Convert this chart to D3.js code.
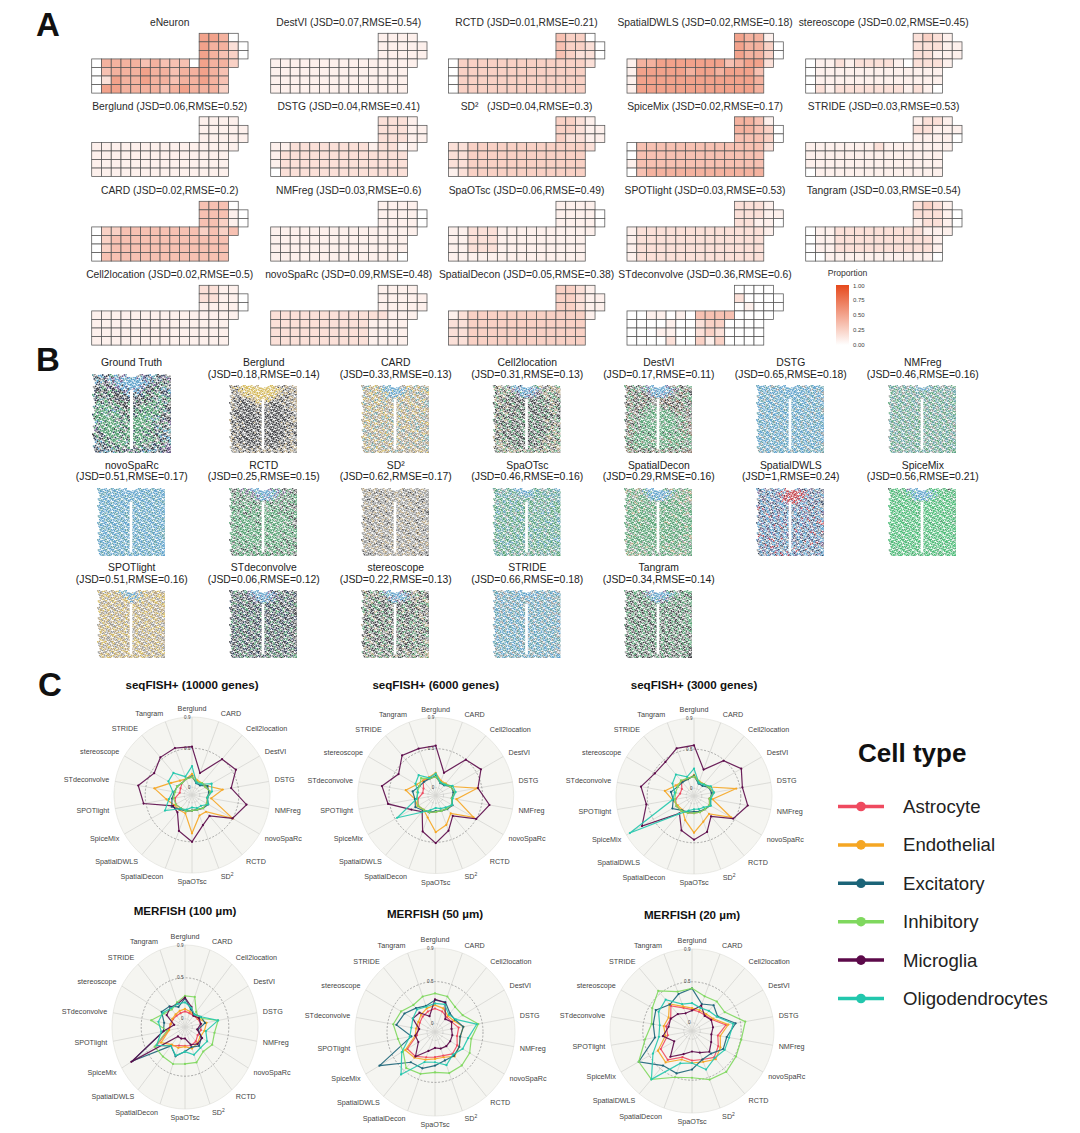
<!DOCTYPE html>
<html><head><meta charset="utf-8">
<script src="https://cdn.jsdelivr.net/npm/d3@7"></script>
<style>html,body{margin:0;background:#fff}svg{display:block;font-family:"Liberation Sans",Arial,sans-serif}</style>
</head><body><svg id="c" width="1080" height="1133"></svg>
<script>
// ---------- Panel A ----------
const heatTitles = ["eNeuron","DestVI (JSD=0.07,RMSE=0.54)","RCTD (JSD=0.01,RMSE=0.21)","SpatialDWLS (JSD=0.02,RMSE=0.18)","stereoscope (JSD=0.02,RMSE=0.45)",
"Berglund (JSD=0.06,RMSE=0.52)","DSTG (JSD=0.04,RMSE=0.41)","SD²\u00a0\u00a0\u00a0(JSD=0.04,RMSE=0.3)","SpiceMix (JSD=0.02,RMSE=0.17)","STRIDE (JSD=0.03,RMSE=0.53)",
"CARD (JSD=0.02,RMSE=0.2)","NMFreg (JSD=0.03,RMSE=0.6)","SpaOTsc (JSD=0.06,RMSE=0.49)","SPOTlight (JSD=0.03,RMSE=0.53)","Tangram (JSD=0.03,RMSE=0.54)",
"Cell2location (JSD=0.02,RMSE=0.5)","novoSpaRc (JSD=0.09,RMSE=0.48)","SpatialDecon (JSD=0.05,RMSE=0.38)","STdeconvolve (JSD=0.36,RMSE=0.6)"];
// digits = proportion x 10 (estimated), one string per grid row
const rowStartCols = [11,11,11,0,0,0,0];
const heatValues = [
"6650 65520 65430 055554544406553 04555655455654 02655655455654 06655554565553",
"1111 11111 11111 111111111111111 11111111111111 11111111111111 11111111111111",
"4330 43320 43220 033333333333332 03333333333333 03333333333333 03333333333333",
"6551 65530 65530 155666666645662 16666656656664 16666666666665 16666666666665",
"2321 22211 22111 011212222102221 01111111111111 01111111111111 02122222221210",
"1111 11111 11111 111111111111111 11111111111111 11111111111111 11111111111111",
"2221 22211 22211 112222222212211 12222222222222 12222222222222 02222222222222",
"3321 33211 32211 223333333333332 22333333333333 22333333333333 12333333333333",
"5541 55430 44430 044444444444442 04444444444444 14444444444444 04555555555555",
"1221 22111 11110 111111121111111 11111111111111 11111111111111 01111111111111",
"4440 44410 44310 033444444443434 03444444444444 03444444444444 04444444444444",
"1111 11110 11110 111111111111111 11111111111111 11111111111111 11111111111110",
"1111 11110 11110 112221111111111 11222111111111 11222111111111 11111111111111",
"2221 22211 22110 122222222222221 12222222222222 12222222222222 12222222222222",
"2321 22210 12210 011222222222111 01122222222221 01122222222221 00111111111110",
"2211 22110 11110 111111111111111 11111111111111 11111111111111 11111111111111",
"1111 11111 11111 222222222222111 22222222221111 22222222221111 22222222221111",
"3321 33211 33211 123333333333331 22333333333333 22333333333333 22333333333333",
"0000 20000 01000 001101044440000 00001002330000 00011002320000 00002003130000"];
const heatLegendTicks = [0,0.25,0.5,0.75,1];
// ---------- Panel B ----------
const spotTitles = [["Ground Truth"],["Berglund","(JSD=0.18,RMSE=0.14)"],["CARD","(JSD=0.33,RMSE=0.13)"],["Cell2location","(JSD=0.31,RMSE=0.13)"],["DestVI","(JSD=0.17,RMSE=0.11)"],["DSTG","(JSD=0.65,RMSE=0.18)"],["NMFreg","(JSD=0.46,RMSE=0.16)"],
["novoSpaRc","(JSD=0.51,RMSE=0.17)"],["RCTD","(JSD=0.25,RMSE=0.15)"],["SD²","(JSD=0.62,RMSE=0.17)"],["SpaOTsc","(JSD=0.46,RMSE=0.16)"],["SpatialDecon","(JSD=0.29,RMSE=0.16)"],["SpatialDWLS","(JSD=1,RMSE=0.24)"],["SpiceMix","(JSD=0.56,RMSE=0.21)"],
["SPOTlight","(JSD=0.51,RMSE=0.16)"],["STdeconvolve","(JSD=0.06,RMSE=0.12)"],["stereoscope","(JSD=0.22,RMSE=0.13)"],["STRIDE","(JSD=0.66,RMSE=0.18)"],["Tangram","(JSD=0.34,RMSE=0.14)"]];
const spotColors = {n:"#35445f",g:"#529f70",b:"#5a9fca",t:"#619fa5",y:"#d4b755",e:"#949594",p:"#75608f",r:"#c23d46",l:"#48bb74",k:"#3d3e42",o:"#b5a07a",u:"#8d6f5c"};
// estimated dominant cell type, coarse 20 x 20 cells of each spatial map
const spotGrids = [
"tebnkgbeptbbepnbtkne ntekbpbptbbbbptnetkp bnektpbbbbbbbbnpkgne ekngpkpbbbbbbpkkgnte nkekgnnkpbbbpkngeknb gnkengkkkbbtkngkegtn entgkenkknenkkngetkg kgngegkkkgnkekggngte tngggengkkgnegggnegk egggnbgekgkgnggggetn ngggteggnkenggggngke kgggggengkgggggbtenk bngggggneggggggnekgp engggggtkgggggegntke pngggggkegngggngekbt kgenggggnggggengktne nekgnggegkgggnggenkb bkngegggtgngggengket tnekngngegkegnektngp eknbtekgnpegnkbtenkp",
"eokeyyyyooyyyyoekoeo oekyyyyyyyyyyyyokeoe koeoyyyyyyyyyyoeokeo eoekoyyoyyyyoyokekoe okekkeooyyyyoekkoeko koekkkekoyoekkkeoeko eoekkkkeokoekkkkekoe okkekkkkeekekkkekeoo kekkkekkkokkkekkkeke eokkkkekkekkkkekkkoe okekkkkkkekkkekkkkeo kkoekkkkkokkkkkekoke ekokkekkkekkkekkkeok okekkkkekekkekkkkeoe koekekkkkokkkkkkekok eokkkkekkekkekkkekoe okekkkkkkokkkkkekeoe ekoekkekkekkkekkokek oekokekkkokekkekoeko eoeekoekoeokeoekoeoe",
"oetoyoebtbbbeoyotoeo toeoyotbbbbbboeyoeot eoyoteoybbbbtoeoteoy oteoyoetbbboeyoteoe yoeotyoeoteoyoeotoye oteoeyoteoeoteoyoeot eoyoteoeoyoeotoeyote oteoyoeoteoyoteoeoyo yoeoteoyoeoteoeoyote oteoeotyoeoyotoeoteo eoyoteoeoteoeoyoteoe otoeyoteoyoteoeoteoy yoeoteoeoteoyoeoteoe oteoyoeotoeoteoyoteo eoteoeoyoteoeoteoeyo oyoteoeoteoyoeotoeot teoeyoteoeoteoeoyote oeoteoeoyoteoeoteoeo eoyoteoteoeoyoteoeot oteoeoyoeoteoeoeoyoe",
"ekoegetbnbbbtgoekoeg oegkoepbbbbbbpegokeo kegoekgpbbbbpkeogeko egkoekgkpbbpkekgoegk oekgkkekkegkkegkkoeg kgoekkgkekkgkekgkeok egkkoekkgkkekgkkeogk kogkkekgkkekkgkkegok ekkgoekkgkegkkekgkoe okgkkegkkekkegkkgkek gkekogkkegkkgkkeokeg ekkgkkegkkegkkegkkoe okegkkgkekkgkekkgoek gkokkegkkegkkgkkekog ekgkekkgkekgkkeggkoe oekkgkegkkgkkegkkoeg kgokegkkegkkegkoekok egoekgkkekkgkekgoekg okeogkekgkegkekogeko egkoegoekogekgoekoge",
"gukgkegpbbbbbpeugkeg ekguetgpbbbbbbpkgeue ugekgkepbbbbbpegukgk kegukgukpbbbpukgekug gukegkukeguukegukgeg ekugkeukgeeukukekugk ugekukgeggekugkuekge gekugkegggeggkeukgue ekguekggggeggggkugek ugegkegggggggggegkue gkugeggggeggggggegge eukgegggggegggggekgu ugegkggggeggggeggkue gkugeggggggggggeguge eukggggkgggggkggggku ugeggggegggeggggegug gekgggggueggguggggeg kggugggegggeggguggke ugkgggggkgggggkgggeg ugeukgekugeugkeugeku",
"tbbtbetbbbbbbtebtbbt btbtbbebtbbbbtbbebtb bebtbbtbbbbbbbtbtbbe tbbtbebtbtbbbtbebtbb btebtbbtbbtbtbbtbtbe tbbtbbebtbtbbtbbebtb bebtbtbbtbbtbbtbtbbt btbbtbebtbtbbebtbtbe tbebtbbtbbtbtbbtbebt bbtbtbebtbtbbebtbtbb btbebtbbtbbtbbtbtbeb tbbtbtbebtbtbtbebtbt bebtbbtbtbbebtbtbbtb tbtbebtbbtbtbbtbebtb bbtbtbbebtbbtbtbbtbe tbebtbtbbtbebtbbtbtb btbbtbebtbtbbtbebtbb bebtbtbbtbbebtbtbbte tbtbbebtbtbbtbbebtbt ebtbebtbtbebtbtbtebt",
"etgtetegetbbtegteteg tegtetgebtbbtetgteet gtetegtetgtegtetgtet etgtgetgtetgtegteteg tegtetgtegtetgtegtet gtetgtegtetgtgetgteg etgtegtetgtegtetgtet tgetgtetgegtetgtegte gtegtetgtegtgtetegtg tetgtegtgetegtgtetgt egtgtetgtgegtetgtget tetgegtetgtgetgtegte gtgetgtegtgtegtgtetg etegtgtetgtegtetgtge tgtetgtegtegtgetgtet egtgetgegtgtetegtgte tetgtegtgetgtegtetgt gtegtetgtegtetgtgetg etgtetgtegtgtegtetgt tegtegtetgtetgetgteg",
"btbbtbtbbbbbbtbbtbtb bbtbbtbbbbbbbbtbbbtb tbbtbbbbtbbbbtbbtbbb btbbbtbtbbbtbbbtbtbb bbtbtbbbtbtbbtbbbtbt tbbbtbbtbbbtbbtbbbtb btbtbbtbbtbbtbbtbtbb bbtbbtbbtbbtbbtbbtbb tbbtbbtbbtbbtbtbbtbb bbtbbtbtbbtbbtbbtbbt btbbtbbtbbtbtbbtbbtb bbtbbtbbtbbbtbbtbbtb tbbtbtbbtbbtbbtbtbbt btbbtbbtbbtbbtbbtbbt bbtbbtbtbbtbbtbbtbbt tbbtbbtbbtbtbbtbbtbb btbbtbtbbtbbtbbtbtbb bbtbtbbtbbtbbtbtbbtb tbbtbbtbbtbbtbbtbbtb btbtbbtbtbtbbtbtbbtb",
"gekgpgpbbbbbpgpgkegk ekgegpgpbbbbbbpgpgke gegkgepgpbbbbpgegkgg kgegkgegpbbbpgegkgeg gkgegggkegegkggegkgg egggkgegggkegggekggk gkggggegkggegggkgege ggegkggggeggggkgggkg egggggkgggkgggggegkg gkgggggegggggegggggk gegggggggkgggggggege ggkgggegggggggeggggk eggggggggkgggggggegg gggkgggggggeggggkggg gegggegggkggggeggegg kggggggggggggggggkge gegkgggegggkgggegkgg ggeggggkggeggkgggegk gkgegkggegggeggkgegg egkgggegkgggkgeggkge",
"eoeeoeeoeekeoeeoeeoe eeoekeeoeeoeeekeeoee oeeeoeekeeeoekeeoeee eekeeoeeoeeoeeoeeeke eoeeekeeeoeeeeoekeoe eeoeoeeoeekeoeeoeeee oeekeeeoeeeoeeekeeoe eeoeeoekeeoeeoeeoeek eoeekeeoeeekeeoeeeoe keeoeeoeeeoeeoeekeee eoekeeoekeeeoekeoeeo eeeoeeeeoeeoeeeeoeee oeekeoeeoekeeoeeoeke eeoeeeoeeeoeeekeeoee eoeeoekeeoeeoeeoeeoe keeoeeeoeeekeeoeekee eeoekeoeeoeeoeeeoeeo oeeeoeekeeoeeoekeoee eoeeoeeoeeoekeeoeeoe eekeeoeeoeeeoeeoekee",
"tgtetgtbbbbbtgtetgtb gtetgtgtbbbbgtgtetgt tgtbtgtetbbtgtgtbtgt gtgtgtetgtgtetgtgtet etgtgbtgtgtgtgtegtgt tgtetgtgtgetgtgtgtbg gtgtgtgbtgtgtgtetgtg tbgtgtegtgtegtbgtgtg gtgtegtgtgtgtgtgtegt tgtgtgtgbtgtgtgtgtgt gtegtgtgtgtegtgtgbgt tgtgtgetgtgtgtgetgtg gbtgtgtgtgtgbtgtgtgt tgtgtegtgtgtgtgtegtg gtgtgtgtgbgtgtgtgtgt tegtgtgtgtgtegtgtgtb gtgtbtgtgtgtgtgbtgtg tgtgtgtegtgtgtgtgtgt gtegtgtgtgtgegtgtget tgtgtgetgtegtgtetgtg",
"geggoegbbbbbgeoggegg oggegegbbbbbbbgeggeo ggeoggebbbbbbegoggeg egggegggbbbbegggeggo gegogggegeggegggogge ggeggggegggggggeggeg egggogggggogggggggeg ggoggggegggggeggggog gegggggggegggggoggge ggggoggggggggggggggg gegggggegggggoggggeg gggoggggggggggggggog eggggggggoggggegggeg ggeggggggggggggggggg gogggegggggoggggeggo gggggggggggggggggegg egoggggeggggegggogge gggeggoggggoggeggegg eggeggegggegggogggeg oggeogggegeggeggoegg",
"bnbpebpbbrrrbpnbpebn pebnbbpebrrrrrpbnbpe bnpbebnprrrrrrbpebnb ebpnbbpbrrrrrpbnbpbe nbebpnbbprrrpbbepnbn bpnbebnpbbpbenbpbnbe rbpbnbpebnbpbpbrnbeb nbebnbpbnbebnbpebnbp bpnbrbpbebbpbnbpbnbe ebnbpbnbpbnebpbrnbpb nbpbebnbpbpbnbpbebnr bebnbpbrnbebpbnbpbnb npbpbnbebnbrbebnpbeb bebnbpbnbpbnbpbnbrbn rbnpbebpbnbpbebnbpbe bpbnbrbnbebpnbnbpbnb ebnbebpbnbpbnbebrbnp bnpbrnbebnbebpbnbpbe ebpbnbpbebnbrbnbebnb nbebpnbrbpbnbpbebnpb",
"kgllglpbbbbbglllglkl llglgllbbbbbblllgllg glllglgbbbbbblglllgl llgllllgbbbbglllgllg lglllgllgglllgllglll llllglllllglllllglll glllllglllllgllllllg lllgllllglllllgllgll llglllllllgllllllllg glllgllglllglllgllll llllllgllllllglllglg lglllllllglllllgllll llllgllglllllgllglll glllllllllgllllllllg llglllgllllglllgllll lllllglllllllglllllg glllgllllgllllllglll llglllllgllglllgllll gllgllglllllgllglllg llgllllgllglllglglll",
"oeyoeoybtbbbeoyoeoye eoyoeyoetbbboeyoeoyo oyeoyoeoybbbyoeoyeoy yoeoeyoeoybeoyoeoyoe eoyoeoyeoeyoeoeyoeoy oeoyoeoeyoeoyoeoyoeo yoeoeyoeoyoeoeyoeoeo eoyoeoeoyoeyoeoyoeoy oeyoeoyoeoeoyoeoeyoe oyoeoeyoeoyoeoyoeoyo eoeyoeoeoyeoeoeyoeoe oyoeoyoeyoeoyoeoyoey yoeoeoyoeoeoeyoeoyoe eoyoeyoeoyoeoeoeyoeo oeoeoeyoeoeyoeoyoeoe yoyoeoeoyoeoyoeoeoyo eoeyoeoeoeyoeoyoeyoe oyoeoyoeoyoeoeoeoyoe eoeoeyoeoyoeoyoeoeoy oyeoyoeoyeoyoeyoeoye",
"kngekgpbbbbbpnkgknek enkgkntpbbbbbpknegkn kgnkenkpbbbbpknkgnke nkenkgknpbbbkngknenk gkngknekgnkngkeknkng nkekngkknnkgknkngkek knkgnkngknkngkgnknek engknkegnkkenkngnkgk knkngkngnkgnknkeknkn gnkenkgknnkngknkgnke kngkgnkeknkgenkgnknk engnknkgnkngnknekngk knkgknengkknkgnkgnke gknnkgknknegnknkkgnk nkegknkngknkgknegkne knkngnekgknnkgknkngk eknkgknkngkengknkgke gknenkgnkgnkngkenkgn knkgkenknkekgnkgknek nekgnkgenkngekngkeng",
"eokgekgpbbbbpgkeokge kgeokegtbbbbbpkegoek oekgkeokpbbbbtekoegk gkeokgkekbbpekgkoeko eokgekkgkekkgekkgekg kgekkgekkeokkgekkoek gkekokgkekkgokekgeke okgekkgekkgekkgekoke ekkgokekgkekgkkegkoe kgekkgekokgekkgekgek oekgkekkgekkgoekgeko gkekoekgkekgkekkgekg ekgkkgeokekkgekgeokk kekoekgkekokgekkgekg ogkekkgekkgekkgokeke ekgoekkgkekgeokkgeko kekgekokgekkgkekgekg oekkgekgkeokekkgoeke gkeokegkekgekeokgeko eokgeokgekoekgeokgeo",
"bteebtbebbbbebtbetbe tbebtebtbbbbbetbebtb ebtbetbbebbebtbtbeet btebtbetbtebtbetbebt tbetbebtbebtebtbetbe ebtbtebtbtebtbtebtbt btebtbtebtbetbtbtebt tbtbetbtbtbtebtbetbe ebtbtbetbebtbtbtebtb btebtbtbtbetbtebtbte tbtbetbebtbtbetbtbtb ebetbtbtbebtbtbtebte btbtbebtbtbebtbetbtb tbetbtbtebtbtbtbtbte ebtbtebtbtbtebtbtebt btbtbtbtbetbtbtebtbt tbtebtbebtbtbtebtbte etbtbtbtbtebtbtbtbeb btebtbetbtbtetbtbete tbetbetbtebtbetbebtb",
"gekggkgpbbbbpgkgekgg kgegkgepbbbbbbtgegkg gkgekggtbbbbpgkggegk egkgegkgkbbpkgegkgeg kgegkgkegkggegkggekg gekgkgegkgekgkgegkge kgkegkgkgekgkgkekgkg gegkgegkgkgegkgkgege kgkgekgkegkgkegkgkeg egkgkegkgkgegkgkegkg gkegkgkgekgkegkgkgeg kgkgegkgkgekgkgegkgk egkgkgkegkgkgkegkgeg gkegkgegkgkgegkgkegk kgkgkegkgekgkgkegkge egkgegkgkgkegkgekgkg kgekgkgekgkgkgekgkeg gkgkegkgkekgkgkegkgk egkgegkegkegkgekgegk kgekgkgekgegkekgekgk"
];
// ---------- Panel C ----------
const radarAxes = ["Berglund","CARD","Cell2location","DestVI","DSTG","NMFreg","novoSpaRc","RCTD","SD2","SpaOTsc","SpatialDecon","SpatialDWLS","SpiceMix","SPOTlight","STdeconvolve","stereoscope","STRIDE","Tangram"];
const cellTypes = ["Astrocyte","Endothelial","Excitatory","Inhibitory","Microglia","Oligodendrocytes"];
const cellColors = ["#ef4a5f","#f5a623","#1b6478","#7fd85e","#5c0a4a","#22c7ad"];
const radarTicks = [0,0.5,0.9];
const seq10000 = [
[.13,.08,.1,.1,.14,.1,.12,.12,.1,.1,.12,.12,.14,.12,.06,.07,.1,.12],
[.17,.1,.1,.13,.3,.15,.5,.18,.18,.39,.15,.15,.16,.23,.39,.21,.14,.12],
[.14,.06,.06,.13,.12,.1,.14,.12,.1,.1,.12,.14,.2,.16,.13,.12,.1,.12],
[.13,.08,.1,.1,.14,.1,.12,.12,.1,.1,.12,.12,.14,.14,.12,.12,.1,.12],
[.52,.2,.5,.55,.41,.61,.5,.25,.31,.5,.39,.19,.18,.53,.6,.46,.53,.54],
[.27,.07,.08,.19,.16,.1,.14,.08,.08,.06,.1,.13,.3,.2,.15,.25,.27,.15]];
const seq6000 = [
[.14,.08,.09,.12,.15,.11,.14,.12,.11,.11,.13,.14,.16,.13,.07,.08,.15,.13],
[.19,.1,.1,.13,.44,.17,.46,.2,.3,.37,.2,.14,.17,.17,.29,.18,.15,.15],
[.15,.07,.07,.13,.13,.11,.15,.13,.11,.1,.13,.15,.2,.17,.2,.14,.13,.13],
[.14,.08,.09,.12,.15,.11,.14,.12,.11,.11,.13,.14,.16,.14,.14,.14,.19,.13],
[.54,.21,.5,.57,.45,.6,.5,.24,.38,.51,.39,.17,.26,.52,.6,.45,.57,.54],
[.18,.08,.08,.15,.16,.12,.14,.1,.08,.06,.1,.18,.47,.15,.13,.2,.24,.14]];
const seq3000 = [
[.15,.09,.1,.12,.16,.1,.13,.12,.12,.12,.13,.15,.16,.14,.08,.08,.15,.14],
[.17,.1,.1,.13,.45,.14,.45,.2,.25,.37,.23,.13,.14,.18,.28,.17,.14,.13],
[.16,.07,.07,.12,.13,.11,.14,.12,.11,.1,.12,.14,.22,.17,.2,.14,.13,.13],
[.15,.09,.1,.12,.16,.1,.13,.12,.12,.12,.13,.15,.16,.15,.14,.14,.16,.14],
[.55,.26,.49,.6,.53,.6,.48,.24,.39,.46,.37,.19,.67,.52,.59,.48,.47,.55],
[.25,.08,.09,.15,.16,.12,.15,.09,.08,.07,.1,.2,.85,.18,.15,.22,.26,.16]];
const mer100 = [
[.09,.08,.08,.1,.12,.12,.1,.13,.14,.13,.14,.2,.35,.13,.1,.09,.08,.08],
[.12,.1,.09,.11,.2,.17,.14,.16,.18,.14,.17,.18,.28,.12,.1,.1,.1,.11],
[.25,.13,.1,.15,.18,.08,.16,.2,.16,.2,.28,.2,.73,.2,.19,.27,.23,.16],
[.28,.29,.14,.12,.36,.31,.33,.29,.36,.35,.38,.37,.38,.15,.37,.23,.18,.22],
[.26,.16,.08,.12,.12,.07,.17,.17,.13,.04,.05,.05,.75,.2,.05,.19,.21,.2],
[.2,.15,.1,.15,.36,.19,.25,.23,.26,.2,.27,.2,.35,.23,.27,.25,.2,.2]];
const mer50 = [
[.18,.16,.13,.14,.2,.18,.22,.24,.2,.2,.22,.28,.3,.13,.11,.12,.14,.16],
[.22,.2,.15,.17,.26,.22,.25,.28,.22,.22,.25,.3,.33,.15,.14,.14,.17,.2],
[.28,.28,.19,.19,.26,.22,.25,.27,.26,.3,.36,.37,.7,.2,.39,.34,.27,.23],
[.36,.35,.29,.3,.45,.36,.4,.42,.42,.38,.43,.46,.36,.37,.43,.39,.32,.35],
[.29,.27,.1,.14,.11,.12,.12,.12,.11,.09,.14,.28,.14,.15,.1,.22,.2,.1],
[.24,.25,.17,.2,.43,.32,.3,.25,.32,.26,.28,.56,.38,.22,.2,.22,.25,.22]];
const mer20 = [
[.16,.15,.15,.18,.32,.22,.27,.32,.27,.26,.24,.36,.34,.2,.22,.2,.3,.2],
[.18,.17,.17,.2,.35,.25,.3,.35,.3,.29,.27,.4,.38,.23,.25,.23,.33,.22],
[.42,.25,.31,.26,.44,.33,.34,.26,.27,.37,.45,.45,.65,.36,.38,.41,.32,.38],
[.42,.35,.37,.36,.56,.51,.52,.55,.53,.47,.5,.67,.65,.48,.4,.46,.54,.41],
[.15,.23,.14,.17,.16,.14,.17,.23,.18,.15,.2,.31,.15,.26,.19,.2,.17,.13],
[.24,.2,.22,.25,.41,.36,.36,.33,.4,.29,.32,.67,.45,.31,.3,.37,.4,.25]];
const radarNames = ["seqFISH+ (10000 genes)","seqFISH+ (6000 genes)","seqFISH+ (3000 genes)","MERFISH (100 µm)","MERFISH (50 µm)","MERFISH (20 µm)"];
const radarData = [seq10000,seq6000,seq3000,mer100,mer50,mer20];

const svg = d3.select("#c");
const sansText = (g,x,y,t,fs,anchor="middle",weight=400,fill="#222") => g.append("text").attr("x",x).attr("y",y).attr("text-anchor",anchor).attr("dominant-baseline","central").attr("font-size",fs).attr("font-weight",weight).attr("fill",fill).text(t);

// panel letters
[["A",36,24],["B",36,359],["C",38,684]].forEach(d=>sansText(svg,d[1],d[2],d[0],33,"start",700,"#111"));
const defs=svg.append("defs");
defs.append("filter").attr("id","soft").attr("x",-.02).attr("y",-.02).attr("width",1.04).attr("height",1.04).append("feGaussianBlur").attr("stdDeviation",.35);

// ---- A ----
const heatColor = d3.scaleLinear().domain([0,1]).range(["#ffffff","#e6491c"]);
const heatX = d3.scaleLinear().domain([0,16]).range([0,156.3]);
const heatY = d3.scaleLinear().domain([0,7]).range([0,59.8]);
const hx0 = [91.7,270.7,448.5,627,805.7], hy0 = [33.3,116.8,201.3,285.3];
heatTitles.forEach((t,i)=>{
  const c=i%5, r=Math.floor(i/5), x0=hx0[c], y0=hy0[r];
  const g=svg.append("g").attr("transform",`translate(${x0},${y0})`);
  heatValues[i].split(" ").forEach((s,ri)=>s.split("").forEach((ch,k)=>{
    const col=rowStartCols[ri]+k;
    g.append("rect").attr("x",heatX(col)).attr("y",heatY(ri)).attr("width",heatX(1)).attr("height",heatY(1))
      .attr("fill",heatColor(+ch/10*.85)).attr("stroke","#555").attr("stroke-width",.75);
  }));
  sansText(svg,x0+78,y0-10.5,t,10.3,"middle",400,"#2a2a2a");
});
// colour legend
sansText(svg,847.5,272.5,"Proportion",8.6,"middle",400,"#333");
const grad=defs.append("linearGradient").attr("id","pg").attr("x1",0).attr("x2",0).attr("y1",1).attr("y2",0);
heatLegendTicks.forEach(v=>grad.append("stop").attr("offset",v).attr("stop-color",heatColor(v)));
svg.append("rect").attr("x",836).attr("y",285).attr("width",13).attr("height",60).attr("fill","url(#pg)");
const legY=d3.scaleLinear().domain([0,1]).range([344.5,285.5]);
heatLegendTicks.forEach(v=>sansText(svg,853,legY(v),v.toFixed(2),6,"start",400,"#444"));

// ---- B ----
const spotColX=[97,229,361,492.5,624,756,888], spotRowY=[385,488,590];
const subDots=[[.22,.25,0,0],[.72,.12,0,1],[.48,.62,1,2],[.95,.78,1,-1]];
const staggerX=[0,.37,.71,.18,.55], staggerY=[0,.31,.12,.43];
spotTitles.forEach((t,i)=>{
  const c=i%7,r=Math.floor(i/7);
  let x=spotColX[c],y=spotRowY[r],size=68;
  if(i===0){x=92;y=374;size=79;}
  const cxT=i===0?131.5:x+34.8;
  const tY=[[362,374],[465,476.5],[567,579]][r];
  sansText(svg,cxT,tY[0],t[0],10.4);
  if(t[1]) sansText(svg,cxT,tY[1],t[1],10.4);
  const g=svg.append("g").attr("filter","url(#soft)");
  const clip=defs.append("clipPath").attr("id","sp"+i);
  clip.append("rect").attr("x",x).attr("y",y).attr("width",size).attr("height",size);
  const gc=g.append("g").attr("clip-path",`url(#sp${i})`);
  const bx=d3.scaleBand().domain(d3.range(20)).range([x,x+size]);
  const by=d3.scaleBand().domain(d3.range(20)).range([y,y+size]);
  const bw=bx.bandwidth();
  const rows=spotGrids[i].split(" ");
  const paths={};
  d3.range(20).forEach(ri=>d3.range(20).forEach(ci=>subDots.forEach(sd=>{
    const row=rows[Math.min(19,ri+sd[2])]||rows[ri];
    const ch=row[Math.max(0,Math.min(row.length-1,ci+sd[3]))];
    if(!spotColors[ch]) return;
    const px=bx(ci)+(sd[0]+staggerX[ri%5])*bw, py=by(ri)+(sd[1]+staggerY[ci%4])*bw, rd=bw*.235;
    const p=paths[ch]||(paths[ch]=d3.path());
    p.moveTo(px+rd,py);p.arc(px,py,rd,0,2*Math.PI);
  })));
  Object.keys(paths).forEach(k=>gc.append("path").attr("d",paths[k].toString()).attr("fill",spotColors[k]));
  g.append("rect").attr("x",x+size*.48).attr("y",y+size*.2).attr("width",size*.04).attr("height",size*.75).attr("fill","#fff");
  g.append("rect").attr("x",x+size*.44).attr("y",y-1).attr("width",size*.12).attr("height",size*.05).attr("fill","#fff");
});

// ---- C ----
const radarGeo=[{cx:192,cy:795,rx:78,ry:78,ty:684},{cx:435.7,cy:795.5,rx:78,ry:78,ty:684},{cx:694,cy:796,rx:78,ry:78,ty:684},
                {cx:185,cy:1027,rx:73,ry:82,ty:910},{cx:435,cy:1032,rx:80,ry:84,ty:913},{cx:692,cy:1031,rx:82,ry:82,ty:914}];
const frac=d3.scaleLinear().domain([0,.9]).range([.1,1]);
const ang=d3.scaleLinear().domain([0,radarAxes.length]).range([0,2*Math.PI]);
radarData.forEach((data,pi)=>{
  const G=radarGeo[pi],g=svg.append("g");
  const px=(i,v)=>G.cx+Math.sin(ang(i))*frac(v)*G.rx, py=(i,v)=>G.cy-Math.cos(ang(i))*frac(v)*G.ry;
  sansText(svg,G.cx,G.ty,radarNames[pi],11.6,"middle",700,"#111");
  g.append("ellipse").attr("cx",G.cx).attr("cy",G.cy).attr("rx",G.rx).attr("ry",G.ry).attr("fill","#f5f5f1").attr("stroke","#e4e4e0").attr("stroke-width",.8);
  radarAxes.forEach((a,i)=>g.append("line").attr("x1",G.cx).attr("y1",G.cy).attr("x2",px(i,.9)).attr("y2",py(i,.9)).attr("stroke","#d6d6d2").attr("stroke-width",.8));
  radarTicks.slice(0,2).forEach(v=>g.append("ellipse").attr("cx",G.cx).attr("cy",G.cy).attr("rx",frac(v)*G.rx).attr("ry",frac(v)*G.ry)
     .attr("fill","none").attr("stroke",v?"#777":"#bbb").attr("stroke-width",.6).attr("stroke-dasharray","2,1.6"));
  radarTicks.forEach(v=>sansText(g,G.cx-1.5,G.cy-frac(v)*G.ry,String(v),4.6,"end",400,"#444"));
  radarAxes.forEach((a,i)=>{
    const s=Math.sin(ang(i)),c=Math.cos(ang(i));
    const x=G.cx+s*(G.rx+6),y=G.cy-c*(G.ry+8.5);
    const anchor=Math.abs(s)<.01?"middle":(s>0?"start":"end");
    const tx=sansText(g,x,y,a==="SD2"?"SD":a,7.2,anchor,400,"#444");
    if(a==="SD2") tx.append("tspan").attr("dy",-2.5).attr("font-size",5).text("2");
  });
  const line=d3.line().x((d,i)=>px(i,d)).y((d,i)=>py(i,d)).curve(d3.curveLinearClosed);
  data.forEach((vals,si)=>{
    g.append("path").attr("d",line(vals)).attr("fill","none").attr("stroke",cellColors[si]).attr("stroke-width",1.2).attr("stroke-opacity",.9);
    vals.forEach((v,i)=>g.append("circle").attr("cx",px(i,v)).attr("cy",py(i,v)).attr("r",1.1).attr("fill",cellColors[si]));
  });
});

// legend
sansText(svg,858,753,"Cell type",26,"start",700,"#111");
const legendY=d3.scalePoint().domain(cellTypes).range([806.5,998.5]);
cellTypes.forEach((t,i)=>{
  const y=legendY(t);
  svg.append("line").attr("x1",838).attr("x2",884).attr("y1",y).attr("y2",y).attr("stroke",cellColors[i]).attr("stroke-width",3.5);
  svg.append("circle").attr("cx",861).attr("cy",y).attr("r",4.8).attr("fill",cellColors[i]);
  sansText(svg,903,y,t,18.6,"start",400,"#222");
});
</script></body></html>
